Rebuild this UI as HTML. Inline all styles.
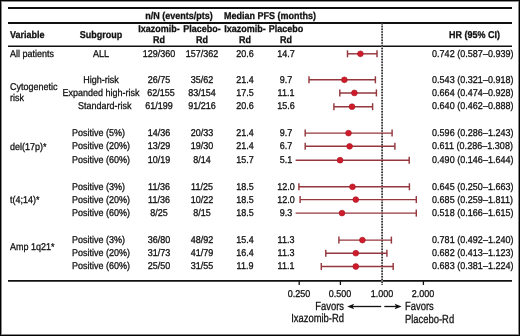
<!DOCTYPE html>
<html><head><meta charset="utf-8"><style>
html,body{margin:0;padding:0;background:#fff;}
body{width:520px;height:336px;overflow:hidden;position:relative;font-family:"Liberation Sans",sans-serif;color:#111;}
.frame{position:absolute;left:0;top:0;width:520px;height:336px;box-sizing:border-box;border:1px solid #000;}
.frame2{position:absolute;left:1px;top:1px;width:518px;height:334px;box-sizing:border-box;border:1px solid #8a8a8a;}
.t{position:absolute;white-space:nowrap;line-height:1;text-rendering:geometricPrecision;-webkit-text-stroke:0.3px #111;}
svg{position:absolute;left:0;top:0;}
.txt{position:absolute;left:0;top:0;width:520px;height:336px;filter:grayscale(1);}
#root{position:absolute;left:0;top:0;width:520px;height:336px;background:#fff;}
</style></head><body><div id="root">
<svg width="520" height="336" viewBox="0 0 520 336">
<line x1="8" y1="8.0" x2="512" y2="8.0" stroke="#111" stroke-width="1.8"/>
<line x1="8" y1="23.0" x2="512" y2="23.0" stroke="#111" stroke-width="1.8"/>
<line x1="8" y1="46.2" x2="512" y2="46.2" stroke="#111" stroke-width="1.6"/>
<line x1="8" y1="280.9" x2="512" y2="280.9" stroke="#111" stroke-width="1.8"/>
<line x1="382.1" y1="23" x2="382.1" y2="285" stroke="#c8c8c8" stroke-width="1.4"/>
<line x1="382.1" y1="23" x2="382.1" y2="285" stroke="#1a1a1a" stroke-width="1.5" stroke-dasharray="1.4 1.35"/>
<line x1="299.2" y1="281" x2="299.2" y2="285" stroke="#111" stroke-width="1.3"/>
<line x1="340.4" y1="281" x2="340.4" y2="285" stroke="#111" stroke-width="1.3"/>
<line x1="423.4" y1="281" x2="423.4" y2="285" stroke="#111" stroke-width="1.3"/>
<line x1="347.5" y1="53.8" x2="377" y2="53.8" stroke="#95383e" stroke-width="1.45"/>
<line x1="347.5" y1="50.3" x2="347.5" y2="57.3" stroke="#95383e" stroke-width="1.45"/>
<line x1="377" y1="50.3" x2="377" y2="57.3" stroke="#95383e" stroke-width="1.45"/>
<circle cx="360.4" cy="53.8" r="2.9" fill="#cf1c2c" stroke="#a8141e" stroke-width="0.6"/>
<line x1="309" y1="79.8" x2="375.4" y2="79.8" stroke="#95383e" stroke-width="1.45"/>
<line x1="309" y1="76.3" x2="309" y2="83.3" stroke="#95383e" stroke-width="1.45"/>
<line x1="375.4" y1="76.3" x2="375.4" y2="83.3" stroke="#95383e" stroke-width="1.45"/>
<circle cx="344.4" cy="79.8" r="2.9" fill="#cf1c2c" stroke="#a8141e" stroke-width="0.6"/>
<line x1="339.8" y1="92.9" x2="376.4" y2="92.9" stroke="#95383e" stroke-width="1.45"/>
<line x1="339.8" y1="89.4" x2="339.8" y2="96.4" stroke="#95383e" stroke-width="1.45"/>
<line x1="376.4" y1="89.4" x2="376.4" y2="96.4" stroke="#95383e" stroke-width="1.45"/>
<circle cx="354.4" cy="92.9" r="2.9" fill="#cf1c2c" stroke="#a8141e" stroke-width="0.6"/>
<line x1="333.9" y1="106.7" x2="372.6" y2="106.7" stroke="#95383e" stroke-width="1.45"/>
<line x1="333.9" y1="103.2" x2="333.9" y2="110.2" stroke="#95383e" stroke-width="1.45"/>
<line x1="372.6" y1="103.2" x2="372.6" y2="110.2" stroke="#95383e" stroke-width="1.45"/>
<circle cx="352.0" cy="106.7" r="2.9" fill="#cf1c2c" stroke="#a8141e" stroke-width="0.6"/>
<line x1="305.2" y1="133.1" x2="392.1" y2="133.1" stroke="#95383e" stroke-width="1.45"/>
<line x1="305.2" y1="129.6" x2="305.2" y2="136.6" stroke="#95383e" stroke-width="1.45"/>
<line x1="392.1" y1="129.6" x2="392.1" y2="136.6" stroke="#95383e" stroke-width="1.45"/>
<circle cx="348.5" cy="133.1" r="2.9" fill="#cf1c2c" stroke="#a8141e" stroke-width="0.6"/>
<line x1="305.2" y1="146.3" x2="394.9" y2="146.3" stroke="#95383e" stroke-width="1.45"/>
<line x1="305.2" y1="142.8" x2="305.2" y2="149.8" stroke="#95383e" stroke-width="1.45"/>
<line x1="394.9" y1="142.8" x2="394.9" y2="149.8" stroke="#95383e" stroke-width="1.45"/>
<circle cx="349.6" cy="146.3" r="2.9" fill="#cf1c2c" stroke="#a8141e" stroke-width="0.6"/>
<line x1="295.6" y1="160.2" x2="409.2" y2="160.2" stroke="#95383e" stroke-width="1.45"/>
<line x1="409.2" y1="156.7" x2="409.2" y2="163.7" stroke="#95383e" stroke-width="1.45"/>
<circle cx="340.1" cy="160.2" r="2.9" fill="#cf1c2c" stroke="#a8141e" stroke-width="0.6"/>
<line x1="298.9" y1="186.8" x2="409.4" y2="186.8" stroke="#95383e" stroke-width="1.45"/>
<line x1="298.9" y1="183.3" x2="298.9" y2="190.3" stroke="#95383e" stroke-width="1.45"/>
<line x1="409.4" y1="183.3" x2="409.4" y2="190.3" stroke="#95383e" stroke-width="1.45"/>
<circle cx="352.5" cy="186.8" r="2.9" fill="#cf1c2c" stroke="#a8141e" stroke-width="0.6"/>
<line x1="300.1" y1="199.6" x2="416.3" y2="199.6" stroke="#95383e" stroke-width="1.45"/>
<line x1="300.1" y1="196.1" x2="300.1" y2="203.1" stroke="#95383e" stroke-width="1.45"/>
<line x1="416.3" y1="196.1" x2="416.3" y2="203.1" stroke="#95383e" stroke-width="1.45"/>
<circle cx="355.8" cy="199.6" r="2.9" fill="#cf1c2c" stroke="#a8141e" stroke-width="0.6"/>
<line x1="295.6" y1="213.1" x2="416.3" y2="213.1" stroke="#95383e" stroke-width="1.45"/>
<line x1="416.3" y1="209.6" x2="416.3" y2="216.6" stroke="#95383e" stroke-width="1.45"/>
<circle cx="342.0" cy="213.1" r="2.9" fill="#cf1c2c" stroke="#a8141e" stroke-width="0.6"/>
<line x1="338.9" y1="240.1" x2="391.4" y2="240.1" stroke="#95383e" stroke-width="1.45"/>
<line x1="338.9" y1="236.6" x2="338.9" y2="243.6" stroke="#95383e" stroke-width="1.45"/>
<line x1="391.4" y1="236.6" x2="391.4" y2="243.6" stroke="#95383e" stroke-width="1.45"/>
<circle cx="362.4" cy="240.1" r="2.9" fill="#cf1c2c" stroke="#a8141e" stroke-width="0.6"/>
<line x1="325.8" y1="253.2" x2="386.9" y2="253.2" stroke="#95383e" stroke-width="1.45"/>
<line x1="325.8" y1="249.7" x2="325.8" y2="256.7" stroke="#95383e" stroke-width="1.45"/>
<line x1="386.9" y1="249.7" x2="386.9" y2="256.7" stroke="#95383e" stroke-width="1.45"/>
<circle cx="355.8" cy="253.2" r="2.9" fill="#cf1c2c" stroke="#a8141e" stroke-width="0.6"/>
<line x1="321.3" y1="266.5" x2="393.2" y2="266.5" stroke="#95383e" stroke-width="1.45"/>
<line x1="321.3" y1="263.0" x2="321.3" y2="270.0" stroke="#95383e" stroke-width="1.45"/>
<line x1="393.2" y1="263.0" x2="393.2" y2="270.0" stroke="#95383e" stroke-width="1.45"/>
<circle cx="355.8" cy="266.5" r="2.9" fill="#cf1c2c" stroke="#a8141e" stroke-width="0.6"/>
<line x1="350" y1="306.5" x2="381.2" y2="306.5" stroke="#111" stroke-width="1.3"/>
<path d="M347.2 306.5 L354.2 303.7 L352.6 306.5 L354.2 309.3 Z" fill="#111"/>
<line x1="384.3" y1="306.5" x2="399" y2="306.5" stroke="#111" stroke-width="1.3"/>
<path d="M401.6 306.5 L394.6 303.7 L396.2 306.5 L394.6 309.3 Z" fill="#111"/>
</svg>
<div class="txt">
<div class="t" style="top:12.00px;font-size:9.90px;transform:scaleX(0.9091);transform-origin:center 0;font-weight:bold;left:78.50px;width:200px;text-align:center;">n/N (events/pts)</div>
<div class="t" style="top:12.00px;font-size:9.90px;transform:scaleX(0.9091);transform-origin:center 0;font-weight:bold;left:169.70px;width:200px;text-align:center;">Median PFS (months)</div>
<div class="t" style="top:31.00px;font-size:9.90px;transform:scaleX(0.9091);transform-origin:left 0;font-weight:bold;left:10.00px;">Variable</div>
<div class="t" style="top:31.00px;font-size:9.90px;transform:scaleX(0.9091);transform-origin:center 0;font-weight:bold;left:0.75px;width:200px;text-align:center;">Subgroup</div>
<div class="t" style="top:25.00px;font-size:9.90px;transform:scaleX(0.9091);transform-origin:center 0;font-weight:bold;left:58.60px;width:200px;text-align:center;">Ixazomib-</div>
<div class="t" style="top:36.00px;font-size:9.90px;transform:scaleX(0.9091);transform-origin:center 0;font-weight:bold;left:58.60px;width:200px;text-align:center;">Rd</div>
<div class="t" style="top:25.00px;font-size:9.90px;transform:scaleX(0.9091);transform-origin:center 0;font-weight:bold;left:102.30px;width:200px;text-align:center;">Placebo-</div>
<div class="t" style="top:36.00px;font-size:9.90px;transform:scaleX(0.9091);transform-origin:center 0;font-weight:bold;left:102.30px;width:200px;text-align:center;">Rd</div>
<div class="t" style="top:25.00px;font-size:9.90px;transform:scaleX(0.9091);transform-origin:center 0;font-weight:bold;left:144.60px;width:200px;text-align:center;">Ixazomib-</div>
<div class="t" style="top:36.00px;font-size:9.90px;transform:scaleX(0.9091);transform-origin:center 0;font-weight:bold;left:144.60px;width:200px;text-align:center;">Rd</div>
<div class="t" style="top:25.00px;font-size:9.90px;transform:scaleX(0.9091);transform-origin:center 0;font-weight:bold;left:186.10px;width:200px;text-align:center;">Placebo</div>
<div class="t" style="top:36.00px;font-size:9.90px;transform:scaleX(0.9091);transform-origin:center 0;font-weight:bold;left:186.10px;width:200px;text-align:center;">Rd</div>
<div class="t" style="top:31.00px;font-size:9.90px;transform:scaleX(0.9091);transform-origin:left 0;font-weight:bold;left:449.20px;">HR (95% CI)</div>
<div class="t" style="top:50.00px;font-size:9.90px;transform:scaleX(0.9091);transform-origin:center 0;left:0.60px;width:200px;text-align:center;">ALL</div>
<div class="t" style="top:50.00px;font-size:9.90px;transform:scaleX(0.9091);transform-origin:center 0;left:58.70px;width:200px;text-align:center;">129/360</div>
<div class="t" style="top:50.00px;font-size:9.90px;transform:scaleX(0.9091);transform-origin:center 0;left:102.00px;width:200px;text-align:center;">157/362</div>
<div class="t" style="top:50.00px;font-size:9.90px;transform:scaleX(0.9091);transform-origin:center 0;left:144.90px;width:200px;text-align:center;">20.6</div>
<div class="t" style="top:50.00px;font-size:9.90px;transform:scaleX(0.9091);transform-origin:center 0;left:185.90px;width:200px;text-align:center;">14.7</div>
<div class="t" style="top:50.00px;font-size:9.90px;transform:scaleX(0.9091);transform-origin:left 0;left:432.20px;letter-spacing:0.045px;">0.742 (0.587&#8211;0.939)</div>
<div class="t" style="top:76.00px;font-size:9.90px;transform:scaleX(0.9091);transform-origin:center 0;left:0.60px;width:200px;text-align:center;">High-risk</div>
<div class="t" style="top:76.00px;font-size:9.90px;transform:scaleX(0.9091);transform-origin:center 0;left:58.70px;width:200px;text-align:center;">26/75</div>
<div class="t" style="top:76.00px;font-size:9.90px;transform:scaleX(0.9091);transform-origin:center 0;left:102.00px;width:200px;text-align:center;">35/62</div>
<div class="t" style="top:76.00px;font-size:9.90px;transform:scaleX(0.9091);transform-origin:center 0;left:144.90px;width:200px;text-align:center;">21.4</div>
<div class="t" style="top:76.00px;font-size:9.90px;transform:scaleX(0.9091);transform-origin:center 0;left:185.90px;width:200px;text-align:center;">9.7</div>
<div class="t" style="top:76.00px;font-size:9.90px;transform:scaleX(0.9091);transform-origin:left 0;left:432.20px;letter-spacing:0.045px;">0.543 (0.321&#8211;0.918)</div>
<div class="t" style="top:89.00px;font-size:9.90px;transform:scaleX(0.9091);transform-origin:center 0;left:0.60px;width:200px;text-align:center;">Expanded high-risk</div>
<div class="t" style="top:89.00px;font-size:9.90px;transform:scaleX(0.9091);transform-origin:center 0;left:61.10px;width:200px;text-align:center;">62/155</div>
<div class="t" style="top:89.00px;font-size:9.90px;transform:scaleX(0.9091);transform-origin:center 0;left:102.00px;width:200px;text-align:center;">83/154</div>
<div class="t" style="top:89.00px;font-size:9.90px;transform:scaleX(0.9091);transform-origin:center 0;left:144.90px;width:200px;text-align:center;">17.5</div>
<div class="t" style="top:89.00px;font-size:9.90px;transform:scaleX(0.9091);transform-origin:center 0;left:185.90px;width:200px;text-align:center;">11.1</div>
<div class="t" style="top:89.00px;font-size:9.90px;transform:scaleX(0.9091);transform-origin:left 0;left:432.20px;letter-spacing:0.045px;">0.664 (0.474&#8211;0.928)</div>
<div class="t" style="top:102.00px;font-size:9.90px;transform:scaleX(0.9091);transform-origin:left 0;left:78.10px;">Standard-risk</div>
<div class="t" style="top:102.00px;font-size:9.90px;transform:scaleX(0.9091);transform-origin:center 0;left:58.70px;width:200px;text-align:center;">61/199</div>
<div class="t" style="top:102.00px;font-size:9.90px;transform:scaleX(0.9091);transform-origin:center 0;left:102.00px;width:200px;text-align:center;">91/216</div>
<div class="t" style="top:102.00px;font-size:9.90px;transform:scaleX(0.9091);transform-origin:center 0;left:144.90px;width:200px;text-align:center;">20.6</div>
<div class="t" style="top:102.00px;font-size:9.90px;transform:scaleX(0.9091);transform-origin:center 0;left:185.90px;width:200px;text-align:center;">15.6</div>
<div class="t" style="top:102.00px;font-size:9.90px;transform:scaleX(0.9091);transform-origin:left 0;left:432.20px;letter-spacing:0.045px;">0.640 (0.462&#8211;0.888)</div>
<div class="t" style="top:129.00px;font-size:9.90px;transform:scaleX(0.9091);transform-origin:left 0;left:72.30px;">Positive (5%)</div>
<div class="t" style="top:129.00px;font-size:9.90px;transform:scaleX(0.9091);transform-origin:center 0;left:58.70px;width:200px;text-align:center;">14/36</div>
<div class="t" style="top:129.00px;font-size:9.90px;transform:scaleX(0.9091);transform-origin:center 0;left:102.00px;width:200px;text-align:center;">20/33</div>
<div class="t" style="top:129.00px;font-size:9.90px;transform:scaleX(0.9091);transform-origin:center 0;left:144.90px;width:200px;text-align:center;">21.4</div>
<div class="t" style="top:129.00px;font-size:9.90px;transform:scaleX(0.9091);transform-origin:center 0;left:185.90px;width:200px;text-align:center;">9.7</div>
<div class="t" style="top:129.00px;font-size:9.90px;transform:scaleX(0.9091);transform-origin:left 0;left:432.20px;letter-spacing:0.045px;">0.596 (0.286&#8211;1.243)</div>
<div class="t" style="top:142.00px;font-size:9.90px;transform:scaleX(0.9091);transform-origin:left 0;left:72.30px;">Positive (20%)</div>
<div class="t" style="top:142.00px;font-size:9.90px;transform:scaleX(0.9091);transform-origin:center 0;left:58.70px;width:200px;text-align:center;">13/29</div>
<div class="t" style="top:142.00px;font-size:9.90px;transform:scaleX(0.9091);transform-origin:center 0;left:102.00px;width:200px;text-align:center;">19/30</div>
<div class="t" style="top:142.00px;font-size:9.90px;transform:scaleX(0.9091);transform-origin:center 0;left:144.90px;width:200px;text-align:center;">21.4</div>
<div class="t" style="top:142.00px;font-size:9.90px;transform:scaleX(0.9091);transform-origin:center 0;left:185.90px;width:200px;text-align:center;">6.7</div>
<div class="t" style="top:142.00px;font-size:9.90px;transform:scaleX(0.9091);transform-origin:left 0;left:432.20px;letter-spacing:0.045px;">0.611 (0.286&#8211;1.308)</div>
<div class="t" style="top:156.00px;font-size:9.90px;transform:scaleX(0.9091);transform-origin:left 0;left:72.30px;">Positive (60%)</div>
<div class="t" style="top:156.00px;font-size:9.90px;transform:scaleX(0.9091);transform-origin:center 0;left:58.70px;width:200px;text-align:center;">10/19</div>
<div class="t" style="top:156.00px;font-size:9.90px;transform:scaleX(0.9091);transform-origin:center 0;left:102.00px;width:200px;text-align:center;">8/14</div>
<div class="t" style="top:156.00px;font-size:9.90px;transform:scaleX(0.9091);transform-origin:center 0;left:144.90px;width:200px;text-align:center;">15.7</div>
<div class="t" style="top:156.00px;font-size:9.90px;transform:scaleX(0.9091);transform-origin:center 0;left:185.90px;width:200px;text-align:center;">5.1</div>
<div class="t" style="top:156.00px;font-size:9.90px;transform:scaleX(0.9091);transform-origin:left 0;left:432.20px;letter-spacing:0.045px;">0.490 (0.146&#8211;1.644)</div>
<div class="t" style="top:183.00px;font-size:9.90px;transform:scaleX(0.9091);transform-origin:left 0;left:72.30px;">Positive (3%)</div>
<div class="t" style="top:183.00px;font-size:9.90px;transform:scaleX(0.9091);transform-origin:center 0;left:58.70px;width:200px;text-align:center;">11/36</div>
<div class="t" style="top:183.00px;font-size:9.90px;transform:scaleX(0.9091);transform-origin:center 0;left:102.00px;width:200px;text-align:center;">11/25</div>
<div class="t" style="top:183.00px;font-size:9.90px;transform:scaleX(0.9091);transform-origin:center 0;left:144.90px;width:200px;text-align:center;">18.5</div>
<div class="t" style="top:183.00px;font-size:9.90px;transform:scaleX(0.9091);transform-origin:center 0;left:185.90px;width:200px;text-align:center;">12.0</div>
<div class="t" style="top:183.00px;font-size:9.90px;transform:scaleX(0.9091);transform-origin:left 0;left:432.20px;letter-spacing:0.045px;">0.645 (0.250&#8211;1.663)</div>
<div class="t" style="top:196.00px;font-size:9.90px;transform:scaleX(0.9091);transform-origin:left 0;left:72.30px;">Positive (20%)</div>
<div class="t" style="top:196.00px;font-size:9.90px;transform:scaleX(0.9091);transform-origin:center 0;left:58.70px;width:200px;text-align:center;">11/36</div>
<div class="t" style="top:196.00px;font-size:9.90px;transform:scaleX(0.9091);transform-origin:center 0;left:102.00px;width:200px;text-align:center;">10/22</div>
<div class="t" style="top:196.00px;font-size:9.90px;transform:scaleX(0.9091);transform-origin:center 0;left:144.90px;width:200px;text-align:center;">18.5</div>
<div class="t" style="top:196.00px;font-size:9.90px;transform:scaleX(0.9091);transform-origin:center 0;left:185.90px;width:200px;text-align:center;">12.0</div>
<div class="t" style="top:196.00px;font-size:9.90px;transform:scaleX(0.9091);transform-origin:left 0;left:432.20px;letter-spacing:0.045px;">0.685 (0.259&#8211;1.811)</div>
<div class="t" style="top:209.00px;font-size:9.90px;transform:scaleX(0.9091);transform-origin:left 0;left:72.30px;">Positive (60%)</div>
<div class="t" style="top:209.00px;font-size:9.90px;transform:scaleX(0.9091);transform-origin:center 0;left:58.70px;width:200px;text-align:center;">8/25</div>
<div class="t" style="top:209.00px;font-size:9.90px;transform:scaleX(0.9091);transform-origin:center 0;left:102.00px;width:200px;text-align:center;">8/15</div>
<div class="t" style="top:209.00px;font-size:9.90px;transform:scaleX(0.9091);transform-origin:center 0;left:144.90px;width:200px;text-align:center;">18.5</div>
<div class="t" style="top:209.00px;font-size:9.90px;transform:scaleX(0.9091);transform-origin:center 0;left:185.90px;width:200px;text-align:center;">9.3</div>
<div class="t" style="top:209.00px;font-size:9.90px;transform:scaleX(0.9091);transform-origin:left 0;left:432.20px;letter-spacing:0.045px;">0.518 (0.166&#8211;1.615)</div>
<div class="t" style="top:236.00px;font-size:9.90px;transform:scaleX(0.9091);transform-origin:left 0;left:72.30px;">Positive (3%)</div>
<div class="t" style="top:236.00px;font-size:9.90px;transform:scaleX(0.9091);transform-origin:center 0;left:58.70px;width:200px;text-align:center;">36/80</div>
<div class="t" style="top:236.00px;font-size:9.90px;transform:scaleX(0.9091);transform-origin:center 0;left:102.00px;width:200px;text-align:center;">48/92</div>
<div class="t" style="top:236.00px;font-size:9.90px;transform:scaleX(0.9091);transform-origin:center 0;left:144.90px;width:200px;text-align:center;">15.4</div>
<div class="t" style="top:236.00px;font-size:9.90px;transform:scaleX(0.9091);transform-origin:center 0;left:185.90px;width:200px;text-align:center;">11.3</div>
<div class="t" style="top:236.00px;font-size:9.90px;transform:scaleX(0.9091);transform-origin:left 0;left:432.20px;letter-spacing:0.045px;">0.781 (0.492&#8211;1.240)</div>
<div class="t" style="top:249.00px;font-size:9.90px;transform:scaleX(0.9091);transform-origin:left 0;left:72.30px;">Positive (20%)</div>
<div class="t" style="top:249.00px;font-size:9.90px;transform:scaleX(0.9091);transform-origin:center 0;left:58.70px;width:200px;text-align:center;">31/73</div>
<div class="t" style="top:249.00px;font-size:9.90px;transform:scaleX(0.9091);transform-origin:center 0;left:102.00px;width:200px;text-align:center;">41/79</div>
<div class="t" style="top:249.00px;font-size:9.90px;transform:scaleX(0.9091);transform-origin:center 0;left:144.90px;width:200px;text-align:center;">16.4</div>
<div class="t" style="top:249.00px;font-size:9.90px;transform:scaleX(0.9091);transform-origin:center 0;left:185.90px;width:200px;text-align:center;">11.3</div>
<div class="t" style="top:249.00px;font-size:9.90px;transform:scaleX(0.9091);transform-origin:left 0;left:432.20px;letter-spacing:0.045px;">0.682 (0.413&#8211;1.123)</div>
<div class="t" style="top:262.00px;font-size:9.90px;transform:scaleX(0.9091);transform-origin:left 0;left:72.30px;">Positive (60%)</div>
<div class="t" style="top:262.00px;font-size:9.90px;transform:scaleX(0.9091);transform-origin:center 0;left:58.70px;width:200px;text-align:center;">25/50</div>
<div class="t" style="top:262.00px;font-size:9.90px;transform:scaleX(0.9091);transform-origin:center 0;left:102.00px;width:200px;text-align:center;">31/55</div>
<div class="t" style="top:262.00px;font-size:9.90px;transform:scaleX(0.9091);transform-origin:center 0;left:144.90px;width:200px;text-align:center;">11.9</div>
<div class="t" style="top:262.00px;font-size:9.90px;transform:scaleX(0.9091);transform-origin:center 0;left:185.90px;width:200px;text-align:center;">11.1</div>
<div class="t" style="top:262.00px;font-size:9.90px;transform:scaleX(0.9091);transform-origin:left 0;left:432.20px;letter-spacing:0.045px;">0.683 (0.381&#8211;1.224)</div>
<div class="t" style="top:50.00px;font-size:9.90px;transform:scaleX(0.9091);transform-origin:left 0;left:9.80px;">All patients</div>
<div class="t" style="top:83.00px;font-size:9.90px;transform:scaleX(0.9091);transform-origin:left 0;left:9.80px;">Cytogenetic</div>
<div class="t" style="top:94.00px;font-size:9.90px;transform:scaleX(0.9091);transform-origin:left 0;left:9.80px;">risk</div>
<div class="t" style="top:143.00px;font-size:9.90px;transform:scaleX(0.9091);transform-origin:left 0;left:9.80px;">del(17p)*</div>
<div class="t" style="top:196.00px;font-size:9.90px;transform:scaleX(0.9091);transform-origin:left 0;left:9.80px;">t(4;14)*</div>
<div class="t" style="top:243.00px;font-size:9.90px;transform:scaleX(0.9091);transform-origin:left 0;left:9.80px;">Amp 1q21*</div>
<div class="t" style="top:290.00px;font-size:9.90px;transform:scaleX(0.9091);transform-origin:center 0;left:199.20px;width:200px;text-align:center;">0.250</div>
<div class="t" style="top:290.00px;font-size:9.90px;transform:scaleX(0.9091);transform-origin:center 0;left:240.40px;width:200px;text-align:center;">0.500</div>
<div class="t" style="top:290.00px;font-size:9.90px;transform:scaleX(0.9091);transform-origin:center 0;left:281.90px;width:200px;text-align:center;">1.000</div>
<div class="t" style="top:290.00px;font-size:9.90px;transform:scaleX(0.9091);transform-origin:center 0;left:323.40px;width:200px;text-align:center;">2.000</div>
<div class="t" style="top:301.00px;font-size:11.75px;transform:scaleX(0.8000);transform-origin:right 0;left:144.00px;width:200px;text-align:right;">Favors</div>
<div class="t" style="top:313.00px;font-size:11.75px;transform:scaleX(0.8000);transform-origin:right 0;left:144.00px;width:200px;text-align:right;">Ixazomib-Rd</div>
<div class="t" style="top:301.00px;font-size:11.75px;transform:scaleX(0.8000);transform-origin:left 0;left:404.60px;">Favors</div>
<div class="t" style="top:314.00px;font-size:11.75px;transform:scaleX(0.8000);transform-origin:left 0;left:404.60px;">Placebo-Rd</div>
</div>
<div class="frame"></div><div class="frame2"></div>
</div></body></html>
